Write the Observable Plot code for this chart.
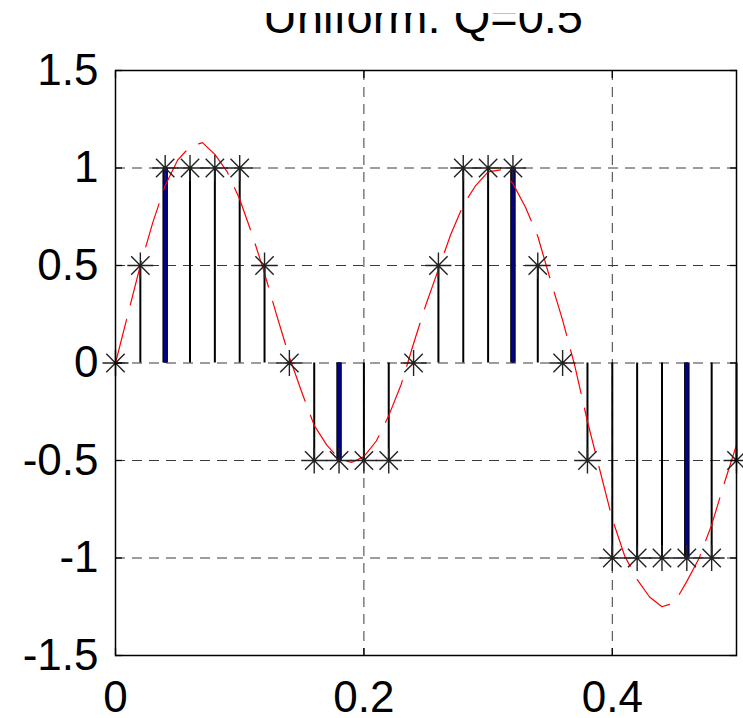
<!DOCTYPE html>
<html>
<head>
<meta charset="utf-8">
<script src="https://cdn.jsdelivr.net/npm/d3@7"></script>
<script src="https://cdn.jsdelivr.net/npm/@observablehq/plot@0.6"></script>
<style>
  html, body { margin: 0; padding: 0; background: white; }
  #wrap { position: relative; width: 743px; height: 718px; overflow: hidden; background: white; }
  #chart { position: absolute; left: 0; top: 0; }
  #title { position: absolute; left: 0; top: 13px; }
</style>
</head>
<body>
<div id="wrap">
  <div id="chart"></div>
  <svg id="title" width="743" height="32"></svg>
</div>
<script>
// ---- Data ----
const titleText = "Uniform: Q=0.5";

// Sample instants (s) and quantized values (Q = 0.5)
const sampleT = [0, 0.02, 0.04, 0.06, 0.08, 0.10, 0.12, 0.14, 0.16, 0.18, 0.20, 0.22, 0.24,
                 0.26, 0.28, 0.30, 0.32, 0.34, 0.36, 0.38, 0.40, 0.42, 0.44, 0.46, 0.48, 0.50];
const quantized = [0, 0.5, 1, 1, 1, 1, 0.5, 0, -0.5, -0.5, -0.5, -0.5, 0,
                   0.5, 1, 1, 1, 0.5, 0, -0.5, -1, -1, -1, -1, -1, -0.5];

// Highlighted (blue) stems
const highlightT = [0.04, 0.18, 0.32, 0.46];

// Underlying analog signal (red dashed)
const analogT = [0, 0.01, 0.02, 0.03, 0.04, 0.05, 0.06, 0.07, 0.08, 0.09, 0.10,
                 0.11, 0.12, 0.13, 0.14, 0.15, 0.16, 0.17, 0.18, 0.19, 0.20,
                 0.21, 0.22, 0.23, 0.24, 0.25, 0.26, 0.27, 0.28, 0.29, 0.30,
                 0.31, 0.32, 0.33, 0.34, 0.35, 0.36, 0.37, 0.38, 0.39, 0.40,
                 0.41, 0.42, 0.43, 0.44, 0.45, 0.46, 0.47, 0.48, 0.49, 0.50];
const analogV = [0, 0.25, 0.50, 0.72, 0.91, 1.04, 1.11, 1.13, 1.07, 0.98, 0.84,
                 0.66, 0.46, 0.24, 0.03, -0.15, -0.32, -0.42, -0.49, -0.51, -0.48,
                 -0.40, -0.27, -0.11, 0.10, 0.30, 0.48, 0.66, 0.81, 0.91, 0.98,
                 0.99, 0.92, 0.80, 0.65, 0.43, 0.22, -0.02, -0.30, -0.55, -0.80,
                 -0.99, -1.11, -1.20, -1.25, -1.23, -1.12, -1.00, -0.83, -0.62, -0.42];

// Ticks
const xTicks = [0, 0.2, 0.4];
const xTickLabels = ["0", "0.2", "0.4"];
const yTicks = [-1.5, -1, -0.5, 0, 0.5, 1, 1.5];
const yTickLabels = ["-1.5", "-1", "-0.5", "0", "0.5", "1", "1.5"];
const xGrid = [0.2, 0.4];
const yGrid = [-1, -0.5, 0, 0.5, 1];

// ---- Build tables ----
const samples = sampleT.map((t, i) => ({t, q: quantized[i]}));
const highlight = samples.filter(d => highlightT.some(h => Math.abs(h - d.t) < 1e-9));
const analog = analogT.map((t, i) => ({t, v: analogV[i]}));

// MATLAB-style asterisk: "+" and "x" combined
const asterisk = {
  draw(context, size) {
    const r = Math.sqrt(size / Math.PI);
    const d = r / Math.SQRT2;
    context.moveTo(-r, 0); context.lineTo(r, 0);
    context.moveTo(0, -r); context.lineTo(0, r);
    context.moveTo(-d, -d); context.lineTo(d, d);
    context.moveTo(-d, d); context.lineTo(d, -d);
  }
};

const font = "'Liberation Sans', Arial, Helvetica, sans-serif";
const fs = 44;
const xfmt = d => xTickLabels[xTicks.findIndex(v => Math.abs(v - d) < 1e-9)];
const yfmt = d => yTickLabels[yTicks.findIndex(v => Math.abs(v - d) < 1e-9)];
const blank = () => "";

const chart = Plot.plot({
  width: 743,
  height: 718,
  marginTop: 70,
  marginBottom: 63,
  marginLeft: 115,
  marginRight: 7,
  style: {fontFamily: font, background: "white", color: "black", overflow: "visible"},
  x: {domain: [0, 0.5]},
  y: {domain: [-1.5, 1.5]},
  marks: [
    Plot.gridX(xGrid, {stroke: "#3a3a3a", strokeOpacity: 1, strokeWidth: 1, strokeDasharray: "10,7"}),
    Plot.gridY(yGrid, {stroke: "#3a3a3a", strokeOpacity: 1, strokeWidth: 1, strokeDasharray: "10,7"}),
    // stems
    Plot.ruleX(samples, {x: "t", y1: 0, y2: "q", stroke: "black", strokeWidth: 2}),
    Plot.ruleX(highlight, {x: "t", y1: 0, y2: "q", stroke: "black", strokeWidth: 5.5}),
    Plot.ruleX(highlight, {x: "t", y1: 0, y2: "q", stroke: "#00008b", strokeWidth: 3.5}),
    // analog signal
    Plot.line(analog, {x: "t", y: "v", stroke: "red", strokeWidth: 1.2, strokeDasharray: "45,15"}),
    // markers
    Plot.dot(samples, {x: "t", y: "q", symbol: asterisk, r: 13, fill: "none", stroke: "#222", strokeWidth: 1.4}),
    // frame
    Plot.frame({stroke: "black", strokeWidth: 1.5}),
    // inward ticks on all four sides
    Plot.axisX(xTicks, {anchor: "bottom", tickSize: 7, dy: -7, tickFormat: blank, label: null, strokeWidth: 1.3}),
    Plot.axisX(xTicks, {anchor: "top", tickSize: 7, dy: 7, tickFormat: blank, label: null, strokeWidth: 1.3}),
    Plot.axisY(yTicks, {anchor: "left", tickSize: 7, dx: 7, tickFormat: blank, label: null, strokeWidth: 1.3}),
    Plot.axisY(yTicks, {anchor: "right", tickSize: 7, dx: -7, tickFormat: blank, label: null, strokeWidth: 1.3}),
    // tick labels
    Plot.axisX(xTicks, {anchor: "bottom", tickSize: 0, tickPadding: 25, tickFormat: xfmt, label: null, fontSize: fs, fill: "black"}),
    Plot.axisY(yTicks, {anchor: "left", tickSize: 0, tickPadding: 17, tickFormat: yfmt, label: null, fontSize: fs, fill: "black"})
  ]
});
document.getElementById("chart").appendChild(chart);

// Title (top is clipped in the reference)
d3.select("#title").append("text")
  .attr("x", 423)
  .attr("y", 20)
  .attr("text-anchor", "middle")
  .attr("font-family", font)
  .attr("font-size", 47)
  .attr("fill", "black")
  .text(titleText);
</script>
</body>
</html>
